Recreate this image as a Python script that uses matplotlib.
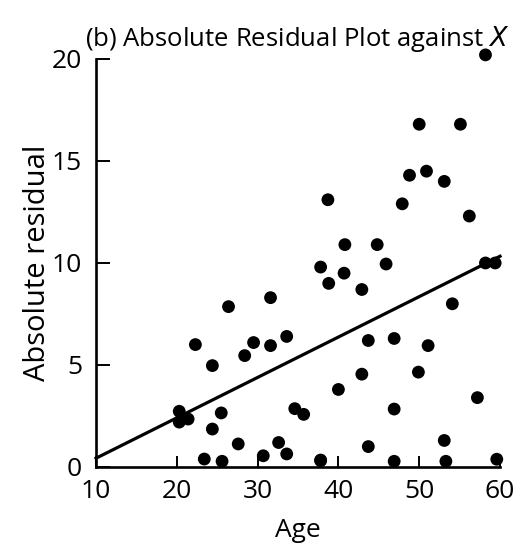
import matplotlib

matplotlib.use("Agg")
import matplotlib.pyplot as plt
import numpy as np

plt.rcParams["font.family"] = ["Open Sans", "DejaVu Sans"]

# absolute residuals |e| against age
age = [58.2, 50.0, 55.1, 48.8, 50.9, 53.1, 38.7, 47.9, 56.2, 40.8,
       44.8, 37.8, 40.7, 38.8, 45.9, 42.9, 58.2, 59.4, 54.1, 33.6,
       43.7, 46.9, 51.1, 42.9, 49.9, 40.0, 57.2, 34.6, 35.7, 46.9,
       32.6, 33.6, 43.7, 53.1, 37.8, 46.9, 53.3, 59.6, 26.4, 31.6,
       22.3, 29.5, 31.6, 28.4, 24.4, 20.3, 20.3, 21.4, 25.5, 24.4,
       27.6, 23.4, 25.6, 30.7, 37.8]
abs_resid = [20.2, 16.8, 16.8, 14.3, 14.5, 14.0, 13.1, 12.9, 12.3, 10.9,
             10.9, 9.8, 9.5, 9.0, 9.95, 8.7, 10.0, 10.0, 8.0, 6.4,
             6.2, 6.3, 5.95, 4.55, 4.65, 3.8, 3.4, 2.86, 2.58, 2.84,
             1.2, 0.64, 1.0, 1.3, 0.34, 0.28, 0.28, 0.38, 7.86, 8.3,
             6.0, 6.1, 5.95, 5.46, 4.97, 2.73, 2.2, 2.35, 2.65, 1.86,
             1.13, 0.39, 0.28, 0.55, 0.31]

# fitted line for the absolute residuals
b0, b1 = -1.55, 0.198
x_ticks = [10, 20, 30, 40, 50, 60]
y_ticks = [0, 5, 10, 15, 20]

fig = plt.figure(figsize=(5.29, 5.46), dpi=100)
ax = fig.add_axes([0.1815, 0.1447, 0.7637, 0.7473])

ax.scatter(age, abs_resid, s=85, color="black", edgecolors="none",
           clip_on=False, zorder=3)
xs = np.array([10, 60])
ax.plot(xs, b0 + b1 * xs, color="black", lw=2.3, clip_on=False)

ax.set_xlim(10, 60)
ax.set_ylim(0, 20)
ax.set_xticks(x_ticks)
ax.set_yticks(y_ticks)
for s in ["top", "right"]:
    ax.spines[s].set_visible(False)
for s in ["left", "bottom"]:
    ax.spines[s].set_linewidth(1.9)
ax.tick_params(axis="x", direction="in", length=8, width=1.4,
               labelsize=19, pad=9)
ax.tick_params(axis="y", direction="in", length=10, width=1.4,
               labelsize=19, pad=10)
ax.set_xlabel("Age", fontsize=19, labelpad=10)
ax.set_ylabel("Absolute residual", fontsize=21, labelpad=0)
ax.set_title("(b) Absolute Residual Plot against $\\mathit{X}$",
             fontsize=18.5, loc="right", pad=9, x=1.025)

plt.savefig("out.png", dpi=100)
